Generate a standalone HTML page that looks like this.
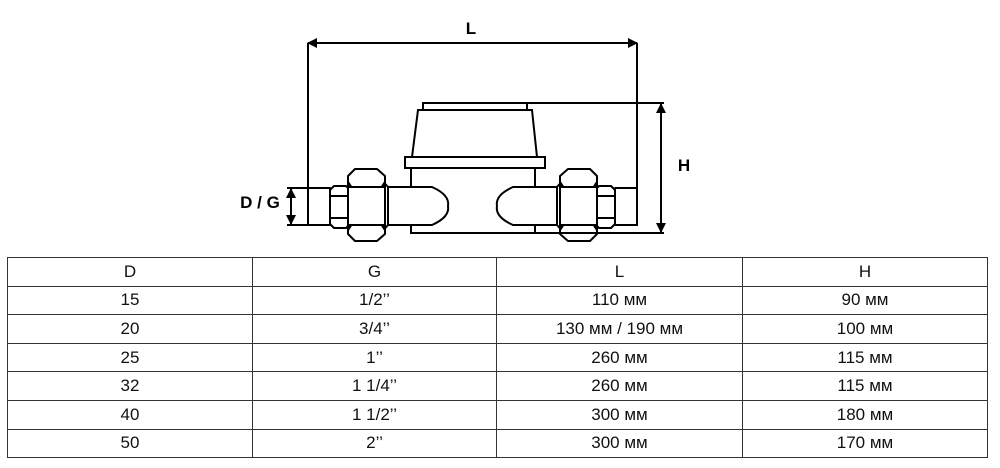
<!DOCTYPE html>
<html><head><meta charset="utf-8"><style>
html,body{margin:0;padding:0;background:#fff;}
body{width:1000px;height:468px;position:relative;overflow:hidden;font-family:"Liberation Sans",sans-serif;}
svg{position:absolute;left:0;top:0;}
table{position:absolute;left:7px;top:257px;border-collapse:collapse;font-family:"Liberation Sans",sans-serif;font-size:17px;color:#111;}
tr{height:28.6px;}
td{border:1.5px solid #333;padding:0;text-align:center;line-height:26px;}
</style></head><body>
<svg width="1000" height="250" viewBox="0 0 1000 250">
<defs>
<marker id="a" markerWidth="10" markerHeight="10" refX="9" refY="5" orient="auto-start-reverse" markerUnits="userSpaceOnUse"><path d="M0,0 L10,5 L0,10 Z" fill="#000"/></marker>
<g id="fit" fill="#fff" stroke="#000" stroke-width="2" stroke-linejoin="round">
  <rect x="308" y="188" width="22" height="37"/>
  <path d="M330,190 L334,186 L346,186 L350,190 L350,224 L346,228 L334,228 L330,224 Z"/>
  <line x1="330" y1="196" x2="350" y2="196"/><line x1="330" y1="218" x2="350" y2="218"/>
  <path d="M388,187 L432,187 Q450,195 448,206 Q450,217 432,225 L388,225 Z"/>
  <path d="M380,178 L388,187 L388,225 L380,234 Z"/>
  <path d="M348,176 L355,169 L377,169 L385,176 L385,234 L377,241 L355,241 L348,234 Z"/>
  <line x1="348" y1="187" x2="385" y2="187"/><line x1="348" y1="225" x2="385" y2="225"/>
  <path d="M348,181 L352,187 L348,187Z M385,181 L381,187 L385,187Z M348,231 L352,225 L348,225Z M385,231 L381,225 L385,225Z" fill="#000" stroke-width="1"/>
</g>
</defs>
<g fill="none" stroke="#000" stroke-width="2">
  <rect x="423" y="103" width="104" height="7" fill="#fff"/>
  <path d="M418,110 L532,110 L537,157 L412,157 Z" fill="#fff"/>
  <rect x="405" y="157" width="140" height="11" fill="#fff"/>
  <rect x="411" y="168" width="124" height="65" fill="#fff"/>
</g>
<use href="#fit"/>
<use href="#fit" transform="translate(945,0) scale(-1,1)"/>
<g fill="none" stroke="#000" stroke-width="2">
  <line x1="308" y1="43" x2="637" y2="43" marker-start="url(#a)" marker-end="url(#a)"/>
  <line x1="308" y1="43" x2="308" y2="226"/>
  <line x1="637" y1="43" x2="637" y2="226"/>
  <line x1="527" y1="103" x2="664" y2="103"/>
  <line x1="535" y1="233" x2="664" y2="233"/>
  <line x1="661" y1="104" x2="661" y2="232" marker-start="url(#a)" marker-end="url(#a)"/>
  <line x1="291" y1="189" x2="291" y2="224" marker-start="url(#a)" marker-end="url(#a)"/>
  <line x1="287" y1="188" x2="308" y2="188"/>
  <line x1="287" y1="225" x2="308" y2="225"/>
</g>
<g font-family="Liberation Sans, sans-serif" font-weight="bold" font-size="17" fill="#000">
  <text x="471" y="34" text-anchor="middle">L</text>
  <text x="684" y="171" text-anchor="middle">H</text>
  <text x="260" y="208" text-anchor="middle">D / G</text>
</g>
</svg>
<table>
<tr><td style="width:244px">D</td><td style="width:243px">G</td><td style="width:245px">L</td><td style="width:244px">H</td></tr>
<tr><td>15</td><td>1/2’’</td><td>110 мм</td><td>90 мм</td></tr>
<tr><td>20</td><td>3/4’’</td><td>130 мм / 190 мм</td><td>100 мм</td></tr>
<tr><td>25</td><td>1’’</td><td>260 мм</td><td>115 мм</td></tr>
<tr><td>32</td><td>1 1/4’’</td><td>260 мм</td><td>115 мм</td></tr>
<tr><td>40</td><td>1 1/2’’</td><td>300 мм</td><td>180 мм</td></tr>
<tr><td>50</td><td>2’’</td><td>300 мм</td><td>170 мм</td></tr>
</table>
</body></html>
